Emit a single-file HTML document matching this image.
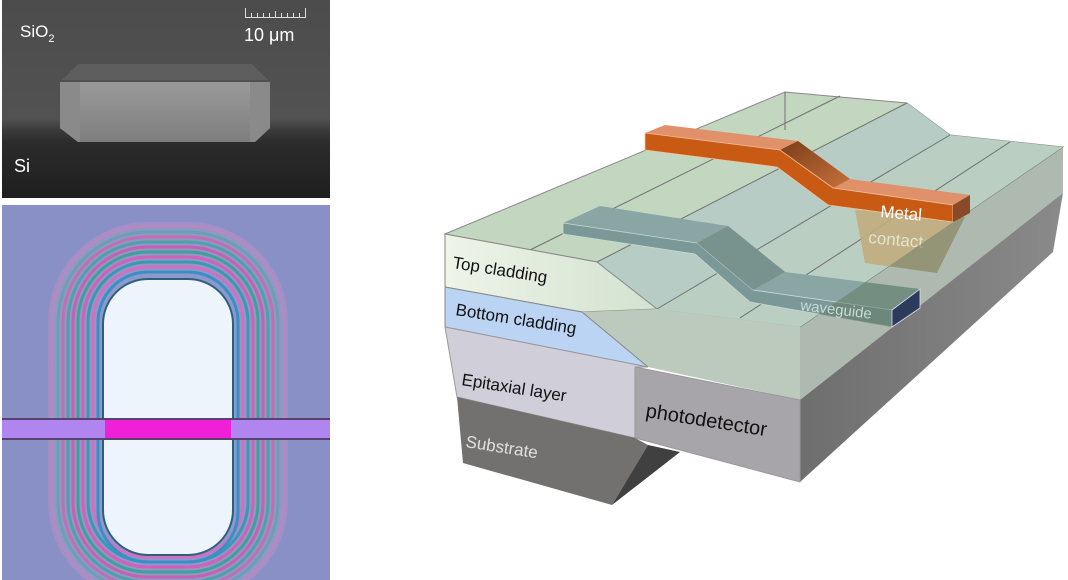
<!DOCTYPE html>
<html><head><meta charset="utf-8"><style>
html,body{margin:0;padding:0;background:#fff;width:1068px;height:580px;overflow:hidden}
svg{display:block}
text{font-family:"Liberation Sans",sans-serif}
</style></head><body>
<svg width="1068" height="580" viewBox="0 0 1068 580" xmlns="http://www.w3.org/2000/svg">
<defs>
<linearGradient id="sem" x1="0" y1="0" x2="0" y2="1">
<stop offset="0" stop-color="#4c4c4c"/><stop offset="0.6" stop-color="#525252"/><stop offset="0.66" stop-color="#3a3a3a"/><stop offset="0.72" stop-color="#2c2c2c"/><stop offset="1" stop-color="#1e1e1e"/></linearGradient>
<linearGradient id="blk" x1="0" y1="0" x2="0" y2="1"><stop offset="0" stop-color="#9a9a9a"/><stop offset="1" stop-color="#7e7e7e"/></linearGradient>
<linearGradient id="gray" x1="0" y1="0" x2="1" y2="0"><stop offset="0" stop-color="#6e6e6e"/><stop offset="1" stop-color="#8a8a8a"/></linearGradient>
<linearGradient id="slopeM" x1="0" y1="0" x2="1" y2="1"><stop offset="0" stop-color="#7a3e1a"/><stop offset="1" stop-color="#c8703a"/></linearGradient>
<linearGradient id="tc" x1="0" y1="0" x2="1" y2="0"><stop offset="0" stop-color="#eef4e8"/><stop offset="1" stop-color="#d2e2d0"/></linearGradient>
<clipPath id="opt"><rect x="2" y="205" width="328" height="375"/></clipPath>
</defs>

<!-- SEM panel -->
<rect x="2" y="0" width="328" height="198" fill="url(#sem)"/>
<polygon points="62,80 78,64 252,64 268,80" fill="#5e5e5e"/>
<polygon points="60,82 270,82 270,128 255,142 78,142 60,128" fill="url(#blk)"/>
<polygon points="60,82 80,82 80,142 78,142 60,128" fill="#8a8a8a"/>
<polygon points="250,82 270,82 270,128 255,142 250,142" fill="#8a8a8a"/>
<text x="20" y="37" font-size="17" fill="#fff">SiO<tspan font-size="11" dy="5">2</tspan></text>
<g stroke="#ddd" stroke-width="1" fill="none">
<path d="M245.5,8 V17.5 H305.5 V8"/>
<path d="M251.5,13V17M257.5,13V17M263.5,13V17M269.5,13V17M275.5,11V17M281.5,13V17M287.5,13V17M293.5,13V17M299.5,13V17"/>
</g>
<text x="244" y="41" font-size="18" fill="#fff">10 μm</text>
<text x="14" y="172" font-size="18" fill="#fff">Si</text>

<!-- Optical panel -->
<g clip-path="url(#opt)">
<rect x="2" y="205" width="328" height="375" fill="#8990c6"/>
<rect x="48" y="222" width="240" height="380" rx="100" fill="#a090c8"/>
<rect x="52" y="226" width="232" height="372" rx="96" fill="#8f98c8" stroke="#b48ac0" stroke-width="3"/>
<rect x="58" y="232" width="220" height="360" rx="90" fill="none" stroke="#6aa0b0" stroke-width="3"/>
<rect x="63" y="237" width="210" height="350" rx="85" fill="none" stroke="#c070b0" stroke-width="3"/>
<rect x="68" y="242" width="200" height="340" rx="80" fill="none" stroke="#50a0a8" stroke-width="3"/>
<rect x="73" y="247" width="190" height="330" rx="75" fill="none" stroke="#c860b0" stroke-width="3"/>
<rect x="78" y="252" width="180" height="320" rx="70" fill="none" stroke="#40a098" stroke-width="3"/>
<rect x="83" y="257" width="170" height="310" rx="65" fill="none" stroke="#d060b8" stroke-width="3"/>
<rect x="88" y="262" width="160" height="300" rx="60" fill="none" stroke="#3a98b0" stroke-width="3"/>
<rect x="93" y="267" width="150" height="290" rx="55" fill="none" stroke="#d070c0" stroke-width="3"/>
<rect x="98" y="272" width="140" height="290" rx="50" fill="none" stroke="#3890c8" stroke-width="3"/>
<rect x="103" y="279" width="130" height="276" rx="45" fill="#eef4fb" stroke="#2a6080" stroke-width="2"/>
<rect x="2" y="418" width="328" height="22" fill="#b085f0"/>
<rect x="2" y="418" width="328" height="2" fill="#5a4070"/>
<rect x="2" y="438" width="328" height="2" fill="#5a4070"/>
<rect x="105" y="420" width="126" height="18" fill="#f020d8"/>
</g>

<!-- Right diagram -->
<polygon points="800,400 1063,193 1053,252 800,482" fill="url(#gray)"/>
<polygon points="445,234 785,92 907,103 950,135 1063,147 800,327 657,309 597,262" fill="#c3d6c0" stroke="#888" stroke-width="1"/>
<polygon points="657,309 950,135 1063,147 800,327" fill="#bacec2"/>
<polygon points="597,262 907,103 950,135 657,309" fill="#b6ccc4"/>
<polygon points="582,312 648,367 800,400 800,330 657,309 597,262" fill="#9fb6c0" opacity="0.45"/>
<g stroke="#707070" stroke-width="1" fill="none">
<line x1="597" y1="262" x2="907" y2="103"/>
<line x1="657" y1="309" x2="950" y2="135"/>
<line x1="530" y1="250" x2="840" y2="96"/>
<line x1="740" y1="318" x2="1010" y2="142"/>
<line x1="785" y1="92" x2="785" y2="130"/>
</g>
<polygon points="445,234 597,262 657,309 582,312 445,287" fill="url(#tc)" stroke="#888" stroke-width="1"/>
<polygon points="657,309 800,327 800,400 648,367 582,312" fill="#bccabd"/>
<polygon points="445,287 582,312 648,367 445,327" fill="#bcd4f4" stroke="#888" stroke-width="1"/>
<polygon points="445,327 648,367 635,367 635,438 457,397" fill="#d0ced8" stroke="#999" stroke-width="1"/>
<polygon points="635,367 800,400 800,482 635,438" fill="#a8a5aa" stroke="#999" stroke-width="1"/>
<polygon points="457,397 635,438 648,445 612,505 463,463" fill="#737170"/>
<polygon points="648,445 680,452 612,505" fill="#404040"/>

<!-- waveguide -->
<polygon points="600,206 728,226 785,272 920,289 892,310 753,290 697,243 563,223" fill="#8aa6a4"/>
<polygon points="563,223 697,243 753,290 892,310 892,327 750,302 695,254 563,234" fill="#7a9898" stroke="#c8d8d4" stroke-width="0.8"/>
<polygon points="697,243 728,226 785,272 753,290" fill="#78928e"/>

<!-- contact -->
<polygon points="855,210 965,217 937,273 865,263" fill="#c2ac80" opacity="0.9"/>
<text x="868" y="243" font-size="17" fill="#e2e4cc" transform="rotate(5 868 243)">contact</text>

<!-- right face glass -->
<polygon points="800,327 1063,147 1063,193 800,400" fill="#5e7660" opacity="0.5"/>

<polygon points="892,310 920,289 920,308 892,327" fill="#2c3a5c" stroke="#dde" stroke-width="0.8"/>
<text x="800" y="310" font-size="15" fill="#c8dad6" transform="rotate(7 800 310)">waveguide</text>

<!-- metal -->
<polygon points="645,133 665,125 798,141 850,179 970,195 953,205 833,188 780,150" fill="#e0916a"/>
<polygon points="780,150 798,141 850,179 833,188" fill="url(#slopeM)"/>
<polygon points="645,133 780,150 833,188 953,205 953,222 828,205 777,167 645,150" fill="#c85a14" stroke="#f0c0a0" stroke-width="0.8"/>
<polygon points="953,205 970,195 970,213 953,222" fill="#8a4a28"/>
<text x="880" y="217" font-size="17" fill="#fff" transform="rotate(5 880 217)">Metal</text>

<g font-size="17" fill="#111">
<text x="452" y="268" transform="rotate(9 452 268)">Top cladding</text>
<text x="455" y="315" transform="rotate(9 455 315)">Bottom cladding</text>
<text x="461" y="385" transform="rotate(9 461 385)">Epitaxial layer</text>
<text x="645" y="417" font-size="20" transform="rotate(9 645 417)">photodetector</text>
</g>
<text x="465" y="447" font-size="17" fill="#e0e0e0" transform="rotate(9 465 447)">Substrate</text>
</svg>
</body></html>
